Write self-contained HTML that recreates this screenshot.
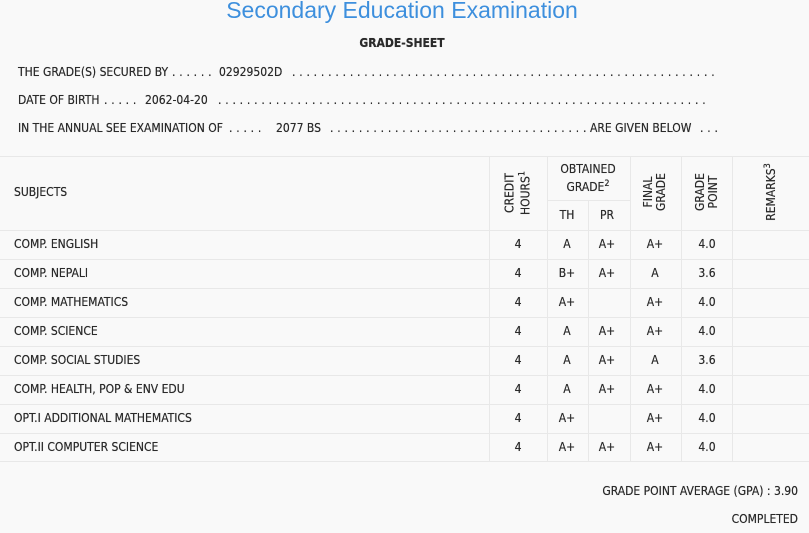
<!DOCTYPE html>
<html><head><meta charset="utf-8"><style>
body{margin:0;width:809px;height:533px;background:#f9f9f9;font-family:"DejaVu Sans Condensed","DejaVu Sans","Liberation Sans",sans-serif;font-size:12px;color:#2a2a2a;position:relative;overflow:hidden;text-shadow:0 0 0.4px #333}
.a{position:absolute;white-space:nowrap}
.c{position:absolute;transform:translateX(-50%);white-space:nowrap;text-align:center}
.h{position:absolute;height:1px;background:#e8e8e8;left:0;width:809px}
.v{position:absolute;width:1px;background:#e8e8e8;top:156px;height:305px}
.r{position:absolute;transform:translate(-50%,-50%) rotate(-90deg);white-space:nowrap;text-align:center;line-height:13px}
sup{font-size:9px}
.d{position:absolute;white-space:nowrap;letter-spacing:3.8px}
</style></head><body>
<div class="c" style="left:402px;top:-3px;font-family:'Liberation Sans',sans-serif;font-size:23px;color:#3d8fdd;text-shadow:none">Secondary Education Examination</div>
<div class="c" style="left:402px;top:36px;font-weight:bold;font-size:12px">GRADE-SHEET</div>
<div class="a" style="left:18px;top:65px">THE GRADE(S) SECURED BY</div>
<div class="a" style="left:219px;top:65px">02929502D</div>
<div class="a" style="left:18px;top:93px">DATE OF BIRTH</div>
<div class="a" style="left:145px;top:93px">2062-04-20</div>
<div class="a" style="left:18px;top:121px">IN THE ANNUAL SEE EXAMINATION OF</div>
<div class="a" style="left:276px;top:121px">2077 BS</div>
<div class="a" style="left:590px;top:121px">ARE GIVEN BELOW</div>
<div id="dots"></div>
<div class="h" style="top:156px"></div>
<div class="h" style="top:200px;left:547px;width:83px"></div>
<div class="h" style="top:230px"></div>
<div class="h" style="top:259px"></div>
<div class="h" style="top:288px"></div>
<div class="h" style="top:317px"></div>
<div class="h" style="top:346px"></div>
<div class="h" style="top:375px"></div>
<div class="h" style="top:404px"></div>
<div class="h" style="top:433px"></div>
<div class="h" style="top:461px"></div>
<div class="v" style="left:489px"></div>
<div class="v" style="left:547px"></div>
<div class="v" style="left:588px;top:200px;height:261px"></div>
<div class="v" style="left:630px"></div>
<div class="v" style="left:681px"></div>
<div class="v" style="left:732px"></div>
<div class="a" style="left:14px;top:185px">SUBJECTS</div>
<div class="r" style="left:518px;top:193px">CREDIT<br>HOURS<sup>1</sup></div>
<div class="c" style="left:588px;top:162px;line-height:15px">OBTAINED<br>GRADE<sup>2</sup></div>
<div class="c" style="left:567px;top:208px">TH</div>
<div class="c" style="left:607px;top:208px">PR</div>
<div class="r" style="left:655px;top:192px">FINAL<br>GRADE</div>
<div class="r" style="left:707px;top:192px">GRADE<br>POINT</div>
<div class="r" style="left:770px;top:192px">REMARKS<sup>3</sup></div>
<div id="rows"></div>
<script>
function dots(x,y,n){return '<div class="d" style="left:'+x+'px;top:'+y+'px">'+Array(n+1).join('.')+'</div>';}
document.getElementById("dots").innerHTML=
dots(172,65,6)+dots(292,65,59)+dots(104,93,5)+dots(218,93,68)+dots(229,121,5)+dots(330,121,36)+dots(700,121,3);
var d=[["COMP. ENGLISH","A","A+","A+","4.0"],["COMP. NEPALI","B+","A+","A","3.6"],["COMP. MATHEMATICS","A+","","A+","4.0"],["COMP. SCIENCE","A","A+","A+","4.0"],["COMP. SOCIAL STUDIES","A","A+","A","3.6"],["COMP. HEALTH, POP &amp; ENV EDU","A","A+","A+","4.0"],["OPT.I ADDITIONAL MATHEMATICS","A+","","A+","4.0"],["OPT.II COMPUTER SCIENCE","A+","A+","A+","4.0"]];
var h="";d.forEach(function(r,i){var t=237+i*29;
h+='<div class="a" style="left:14px;top:'+t+'px">'+r[0]+'</div><div class="c" style="left:518px;top:'+t+'px">4</div><div class="c" style="left:567px;top:'+t+'px">'+r[1]+'</div><div class="c" style="left:607px;top:'+t+'px">'+r[2]+'</div><div class="c" style="left:655px;top:'+t+'px">'+r[3]+'</div><div class="c" style="left:707px;top:'+t+'px">'+r[4]+'</div>';});
document.getElementById("rows").innerHTML=h;
</script>
<div class="a" style="right:11px;top:484px">GRADE POINT AVERAGE (GPA) : 3.90</div>
<div class="a" style="right:11px;top:512px">COMPLETED</div>
</body></html>
